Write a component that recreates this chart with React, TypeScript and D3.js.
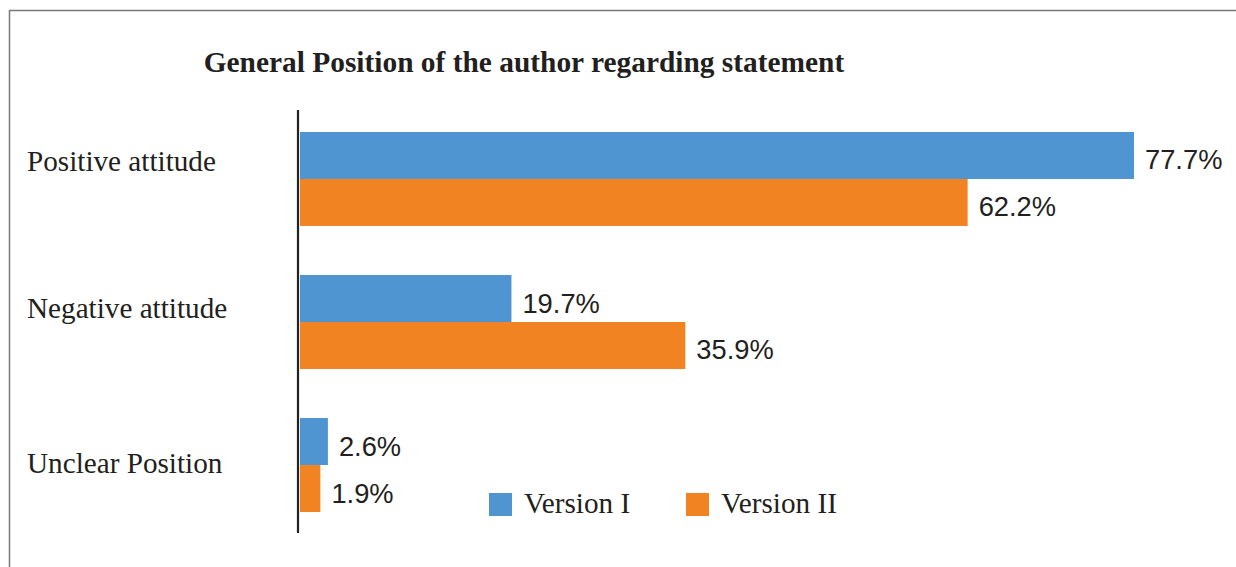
import React from "react";
import * as d3 from "d3";

const categories = ["Positive attitude", "Negative attitude", "Unclear Position"];
const series = ["Version I", "Version II"];
const versionI = [77.7, 19.7, 2.6];
const versionII = [62.2, 35.9, 1.9];
const colors = ["#4F95D1", "#F28322"];
const title = "General Position of the author regarding statement";

const W = 1236;
const H = 567;

export default function App() {
  const x = d3.scaleLinear().domain([0, 77.7]).range([300, 1134]);
  const y = d3.scaleBand<string>().domain(categories).range([132, 512]).paddingInner(0.343).paddingOuter(0);
  const sub = d3.scaleBand<string>().domain(series).range([0, y.bandwidth()]).padding(0);
  const labelY = d3.scalePoint<string>().domain(categories).range([171, 473]);
  const values = [versionI, versionII];
  const textColor = "#231F20";

  return (
    <svg width={W} height={H} style={{ position: "fixed", left: 0, top: 0, background: "#fff" }}>
      <rect x={0} y={0} width={W} height={H} fill="#fff" />
      <rect x={9.5} y={10.5} width={W + 20} height={H + 20} fill="none" stroke="#7a7a7a" strokeWidth={1.5} />
      <text x={524} y={72} textAnchor="middle" fontFamily="'Liberation Serif', 'Times New Roman', serif" fontWeight="bold" fontSize={29.4} fill={textColor}>
        {title}
      </text>
      {categories.map((c) => (
        <text key={c} x={27} y={(labelY(c) as number) - (c === categories[1] ? 4 : 0)} fontFamily="'Liberation Serif', 'Times New Roman', serif" fontSize={29.2} fill={textColor}>
          {c}
        </text>
      ))}
      {categories.map((c, i) =>
        series.map((s, j) => {
          const v = values[j][i];
          const y0 = (y(c) as number) + (sub(s) as number);
          const bw = sub.bandwidth();
          return (
            <g key={c + s}>
              <rect x={x(0)} y={y0} width={x(v) - x(0)} height={bw} fill={colors[j]} />
              <text x={x(v) + 11} y={y0 + bw / 2 + 14} fontFamily="'Liberation Sans', Arial, sans-serif" fontSize={27.3} fill={textColor}>
                {v.toFixed(1) + "%"}
              </text>
            </g>
          );
        })
      )}
      <line x1={298} x2={298} y1={110} y2={533} stroke="#222" strokeWidth={2.2} />
      {series.map((s, j) => {
        const lx = [489, 686][j];
        return (
          <g key={s}>
            <rect x={lx} y={493} width={23} height={23} fill={colors[j]} />
            <text x={lx + 35} y={513} fontFamily="'Liberation Serif', 'Times New Roman', serif" fontSize={29.2} fill={textColor}>
              {s}
            </text>
          </g>
        );
      })}
    </svg>
  );
}
